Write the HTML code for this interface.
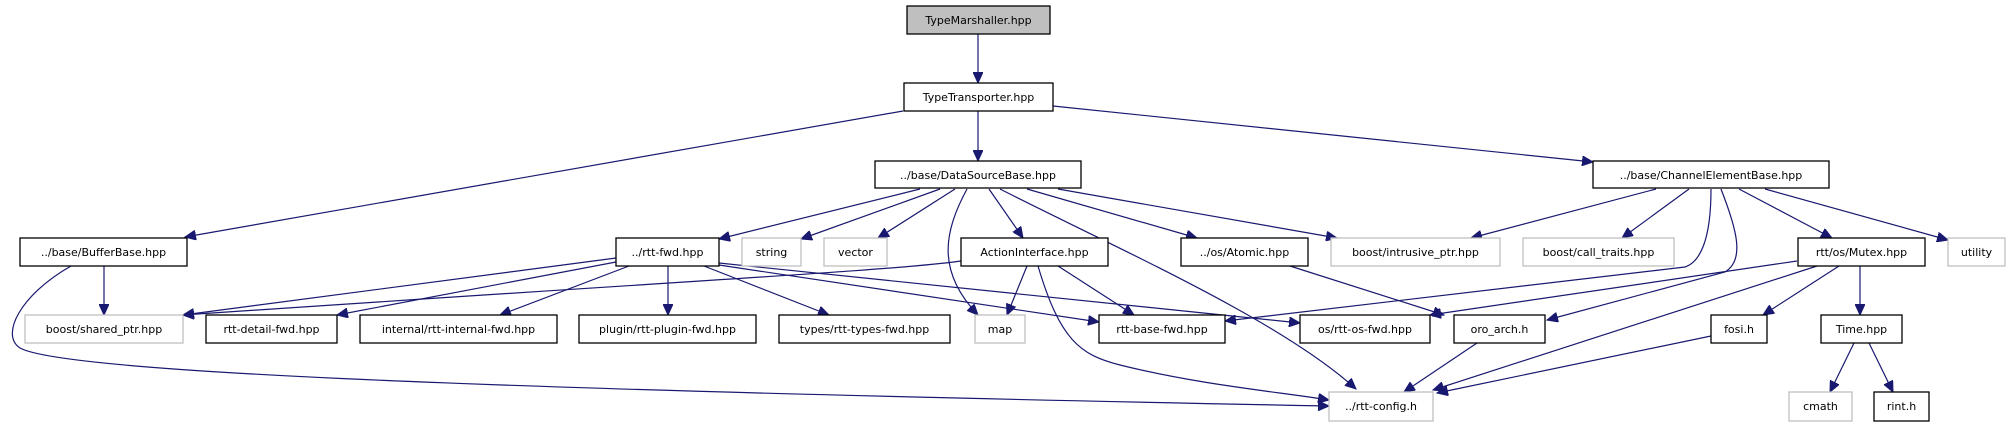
<!DOCTYPE html>
<html><head><meta charset="utf-8"><style>
html,body{margin:0;padding:0;background:#fff;}
svg{display:block;}
text{font-family:"DejaVu Sans","Liberation Sans",sans-serif;font-size:11px;fill:#000;text-anchor:middle;}
.n rect{fill:#fff;stroke:#000;stroke-width:1.3;}
.g rect{fill:#fff;stroke:#bfbfbf;stroke-width:1.3;}
.e{fill:none;stroke:#191970;stroke-width:1.2;}
</style></head><body>
<svg width="2009" height="427" viewBox="0 0 2009 427" xmlns="http://www.w3.org/2000/svg">
<defs><marker id="a" markerUnits="userSpaceOnUse" markerWidth="12" markerHeight="10" refX="11" refY="5" orient="auto"><path d="M0,0 L11,5 L0,10 z" fill="#191970" stroke="#191970"/></marker></defs>
<g marker-end="url(#a)">
<path class="e" d="M978,34 L978,83"/>
<path class="e" d="M903,111 L185,237"/>
<path class="e" d="M978,111 L978,161"/>
<path class="e" d="M1053,106 L1593,162"/>
<path class="e" d="M920,189 L719,239"/>
<path class="e" d="M940,189 L801,239"/>
<path class="e" d="M955,189 L878,238"/>
<path class="e" d="M967,189 C945,230 935,270 978,315"/>
<path class="e" d="M989,189 L1023,238"/>
<path class="e" d="M1000,189 C1120,250 1280,320 1356,389"/>
<path class="e" d="M1027,189 L1197,238"/>
<path class="e" d="M1058,189 L1337,238"/>
<path class="e" d="M104,266 L104,315"/>
<path class="e" d="M71,266 C20,295 0,335 20,348 C60,370 400,388 1329,406"/>
<path class="e" d="M616,258 L183,315"/>
<path class="e" d="M616,262 L337,315"/>
<path class="e" d="M629,266 L500,315"/>
<path class="e" d="M668,266 L668,315"/>
<path class="e" d="M704,266 L829,315"/>
<path class="e" d="M719,265 L1099,322"/>
<path class="e" d="M719,263 L1300,323"/>
<path class="e" d="M961,261 C900,270 700,280 183,315"/>
<path class="e" d="M1027,266 L1007,315"/>
<path class="e" d="M1058,266 L1134,315"/>
<path class="e" d="M1038,266 C1060,340 1080,355 1120,365 C1200,385 1280,392 1329,400"/>
<path class="e" d="M1290,266 L1444,315"/>
<path class="e" d="M1656,189 L1471,238"/>
<path class="e" d="M1689,189 L1622,238"/>
<path class="e" d="M1711,189 C1711,240 1700,262 1685,267 L1225,321"/>
<path class="e" d="M1721,189 C1737,230 1745,260 1725,272 L1547,320"/>
<path class="e" d="M1739,189 L1832,238"/>
<path class="e" d="M1765,189 L1948,240"/>
<path class="e" d="M1797,261 L1430,315"/>
<path class="e" d="M1817,266 L1433,390"/>
<path class="e" d="M1839,266 L1763,315"/>
<path class="e" d="M1860,266 L1860,315"/>
<path class="e" d="M1477,343 L1404,392"/>
<path class="e" d="M1711,336 L1437,393"/>
<path class="e" d="M1854,343 L1830,392"/>
<path class="e" d="M1869,343 L1893,392"/>
</g>
<g class="n"><rect x="907" y="6" width="143" height="28" style="fill:#bfbfbf"/><text x="978.5" y="24">TypeMarshaller.hpp</text></g>
<g class="n"><rect x="904" y="83" width="149" height="28"/><text x="978.5" y="101">TypeTransporter.hpp</text></g>
<g class="n"><rect x="875" y="161" width="206" height="27"/><text x="978" y="179">../base/DataSourceBase.hpp</text></g>
<g class="n"><rect x="1593" y="161" width="236" height="27"/><text x="1711" y="179">../base/ChannelElementBase.hpp</text></g>
<g class="n"><rect x="20" y="238" width="167" height="28"/><text x="103.5" y="256">../base/BufferBase.hpp</text></g>
<g class="n"><rect x="616" y="238" width="103" height="28"/><text x="667.5" y="256">../rtt-fwd.hpp</text></g>
<g class="g"><rect x="742" y="238" width="59" height="28"/><text x="771.5" y="256">string</text></g>
<g class="g"><rect x="824" y="238" width="63" height="28"/><text x="855.5" y="256">vector</text></g>
<g class="n"><rect x="961" y="238" width="147" height="28"/><text x="1034.5" y="256">ActionInterface.hpp</text></g>
<g class="n"><rect x="1181" y="238" width="127" height="28"/><text x="1244.5" y="256">../os/Atomic.hpp</text></g>
<g class="g"><rect x="1331" y="238" width="169" height="28"/><text x="1415.5" y="256">boost/intrusive_ptr.hpp</text></g>
<g class="g"><rect x="1523" y="238" width="151" height="28"/><text x="1598.5" y="256">boost/call_traits.hpp</text></g>
<g class="n"><rect x="1798" y="238" width="127" height="28"/><text x="1861.5" y="256">rtt/os/Mutex.hpp</text></g>
<g class="g"><rect x="1948" y="238" width="57" height="28"/><text x="1976.5" y="256">utility</text></g>
<g class="g"><rect x="25" y="315" width="158" height="28"/><text x="104" y="333">boost/shared_ptr.hpp</text></g>
<g class="n"><rect x="206" y="315" width="131" height="28"/><text x="271.5" y="333">rtt-detail-fwd.hpp</text></g>
<g class="n"><rect x="360" y="315" width="197" height="28"/><text x="458.5" y="333">internal/rtt-internal-fwd.hpp</text></g>
<g class="n"><rect x="579" y="315" width="177" height="28"/><text x="667.5" y="333">plugin/rtt-plugin-fwd.hpp</text></g>
<g class="n"><rect x="779" y="315" width="171" height="28"/><text x="864.5" y="333">types/rtt-types-fwd.hpp</text></g>
<g class="g"><rect x="975" y="315" width="50" height="28"/><text x="1000" y="333">map</text></g>
<g class="n"><rect x="1099" y="315" width="126" height="28"/><text x="1162" y="333">rtt-base-fwd.hpp</text></g>
<g class="n"><rect x="1300" y="315" width="130" height="28"/><text x="1365" y="333">os/rtt-os-fwd.hpp</text></g>
<g class="n"><rect x="1454" y="315" width="91" height="28"/><text x="1499.5" y="333">oro_arch.h</text></g>
<g class="n"><rect x="1711" y="315" width="56" height="28"/><text x="1739" y="333">fosi.h</text></g>
<g class="n"><rect x="1821" y="315" width="81" height="28"/><text x="1861.5" y="333">Time.hpp</text></g>
<g class="g"><rect x="1329" y="392" width="104" height="29"/><text x="1381" y="410">../rtt-config.h</text></g>
<g class="g"><rect x="1789" y="392" width="63" height="29"/><text x="1820.5" y="410">cmath</text></g>
<g class="n"><rect x="1874" y="392" width="55" height="29"/><text x="1901.5" y="410">rint.h</text></g>
</svg>
</body></html>
